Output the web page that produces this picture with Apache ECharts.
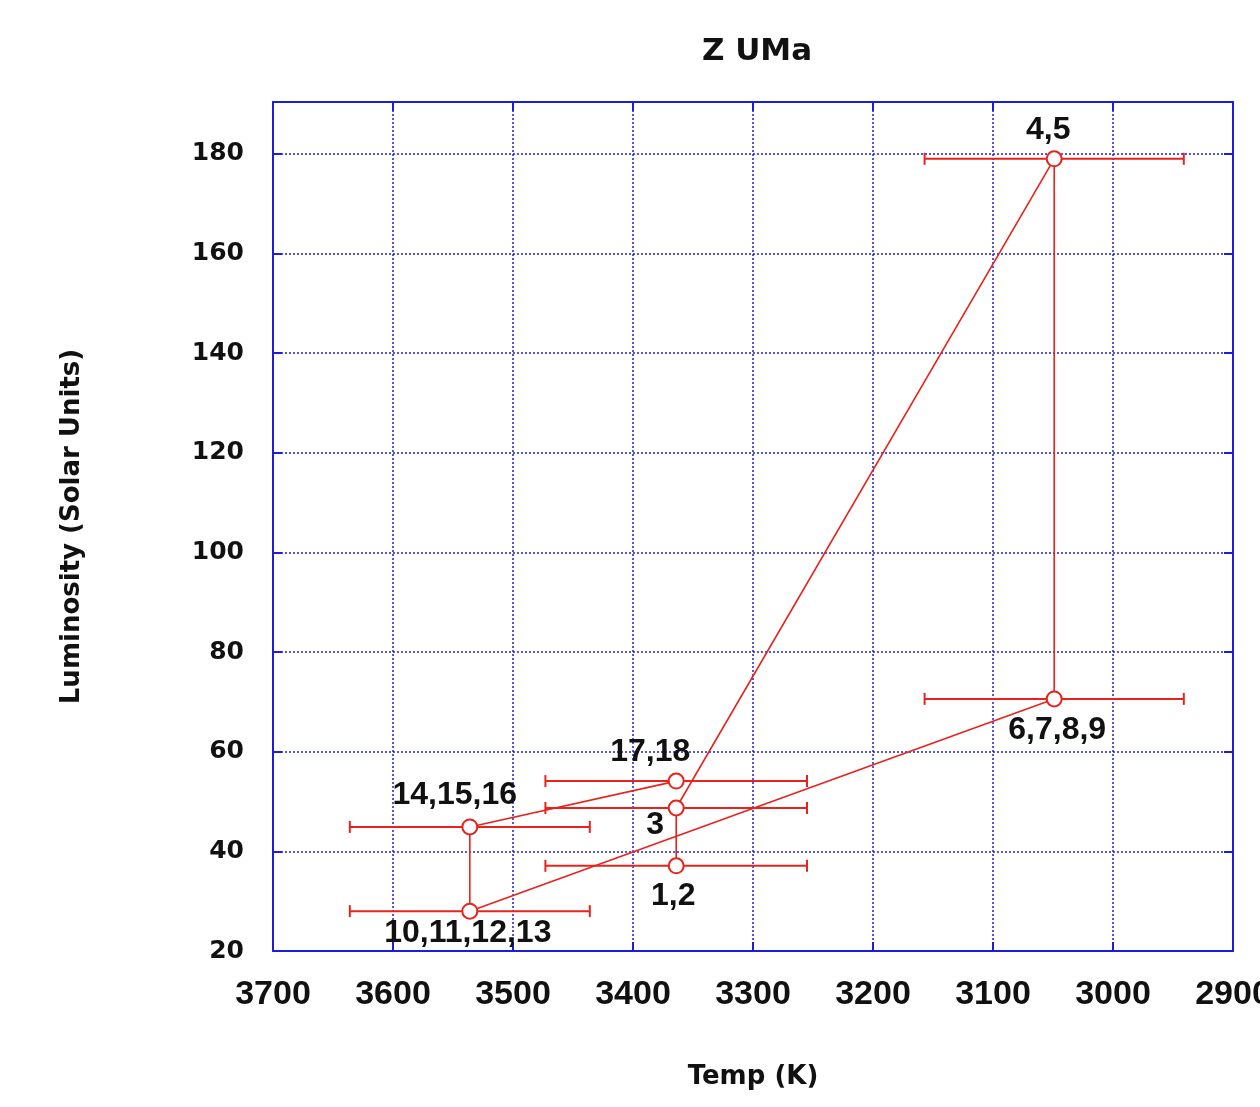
<!DOCTYPE html>
<html>
<head>
<meta charset="utf-8">
<script src="https://cdn.jsdelivr.net/npm/echarts@6/dist/echarts.min.js"></script>
<style>html,body{margin:0;padding:0;background:#fff}#c{width:1260px;height:1107px}</style>
</head>
<body>
<div id="c"></div>
<script>
// ---- data ----
var pointLabels = ['1,2', '3', '4,5', '6,7,8,9', '10,11,12,13', '14,15,16', '17,18'];
var temps = [3364, 3364, 3049, 3049, 3536, 3536, 3364];
var lums = [37.1, 48.7, 179, 70.6, 28, 44.9, 54.1];
var tempErrs = [109, 109, 108, 108, 100, 100, 109];
var xTicks = [3700, 3600, 3500, 3400, 3300, 3200, 3100, 3000, 2900];
var yTicks = [20, 40, 60, 80, 100, 120, 140, 160, 180];

// label placement (style, not data)
var labelOffsets = [[-3, 30], [-21, 17], [-6, -29], [3, 31], [-2, 22], [-15, -32], [-26, -29]];

var RED = '#e8231c';
var BLUE = '#1c1ce0';

var chart = echarts.init(document.getElementById('c'), null, {renderer: 'canvas'});

var pts = temps.map(function (t, i) {
  return {
    value: [t, lums[i]],
    label: {
      show: true,
      formatter: pointLabels[i],
      position: 'inside',
      offset: labelOffsets[i]
    }
  };
});

var errData = temps.map(function (t, i) { return [t, lums[i], tempErrs[i]]; });

var axisLine = {show: true, lineStyle: {color: BLUE, width: 2}};
var axisTick = {show: true, inside: true, length: 9, lineStyle: {color: BLUE, width: 2}};
var splitLine = {show: true, lineStyle: {color: BLUE, type: [2, 2], width: 1.5}};

chart.setOption({
  backgroundColor: '#fff',
  animation: false,
  title: {
    text: 'Z UMa',
    left: 752,
    textAlign: 'center',
    top: 31,
    textStyle: {fontFamily: 'DejaVu Sans', fontWeight: 'bold', fontSize: 31, color: '#111'}
  },
  grid: {left: 273, right: 27, top: 102, bottom: 156, outerBoundsMode: 'none', containLabel: false},
  xAxis: [{
    type: 'value',
    inverse: true,
    min: 2900, max: 3700, interval: 100,
    name: 'Temp (K)',
    nameLocation: 'middle',
    nameGap: 113,
    nameTextStyle: {fontFamily: 'DejaVu Sans', fontWeight: 'bold', fontSize: 26, color: '#111'},
    axisLine: axisLine,
    axisTick: axisTick,
    splitLine: splitLine,
    axisLabel: {
      margin: 27,
      fontFamily: 'Liberation Sans',
      fontWeight: 'bold',
      fontSize: 34,
      color: '#111',
      formatter: function (v) { return xTicks.indexOf(v) >= 0 ? String(v) : ''; }
    }
  }, {
    type: 'value',
    position: 'top',
    inverse: true,
    min: 2900, max: 3700, interval: 100,
    axisLine: axisLine,
    axisTick: axisTick,
    splitLine: {show: false},
    axisLabel: {show: false}
  }],
  yAxis: [{
    type: 'value',
    min: 20, max: 190.4, interval: 20,
    name: 'Luminosity (Solar Units)',
    nameLocation: 'middle',
    nameGap: 188,
    nameRotate: 90,
    nameTextStyle: {fontFamily: 'DejaVu Sans', fontWeight: 'bold', fontSize: 26, color: '#111'},
    axisLine: axisLine,
    axisTick: axisTick,
    splitLine: splitLine,
    axisLabel: {
      margin: 29,
      showMaxLabel: false,
      fontFamily: 'DejaVu Sans',
      fontWeight: 'bold',
      fontSize: 25,
      color: '#111',
      formatter: function (v) { return yTicks.indexOf(v) >= 0 ? String(v) : ''; }
    }
  }, {
    type: 'value',
    position: 'right',
    min: 20, max: 190.4, interval: 20,
    axisLine: axisLine,
    axisTick: axisTick,
    splitLine: {show: false},
    axisLabel: {show: false}
  }],
  series: [{
    type: 'custom',
    xAxisIndex: 0, yAxisIndex: 0,
    data: errData,
    z: 3,
    renderItem: function (params, api) {
      var t = api.value(0), l = api.value(1), e = api.value(2);
      var p1 = api.coord([t - e, l]);
      var p2 = api.coord([t + e, l]);
      var cap = 6;
      var style = {stroke: RED, lineWidth: 2};
      return {
        type: 'group',
        children: [
          {type: 'line', shape: {x1: p1[0], y1: p1[1], x2: p2[0], y2: p2[1]}, style: style},
          {type: 'line', shape: {x1: p1[0], y1: p1[1] - cap, x2: p1[0], y2: p1[1] + cap}, style: style},
          {type: 'line', shape: {x1: p2[0], y1: p2[1] - cap, x2: p2[0], y2: p2[1] + cap}, style: style}
        ]
      };
    }
  }, {
    type: 'line',
    xAxisIndex: 0, yAxisIndex: 0,
    data: pts,
    z: 4,
    symbol: 'emptyCircle',
    symbolSize: 15,
    lineStyle: {color: RED, width: 1.6},
    itemStyle: {color: RED, borderColor: RED, borderWidth: 2},
    label: {
      fontFamily: 'Liberation Sans',
      fontWeight: 'bold',
      fontSize: 32,
      color: '#111'
    }
  }]
});
</script>
</body>
</html>
